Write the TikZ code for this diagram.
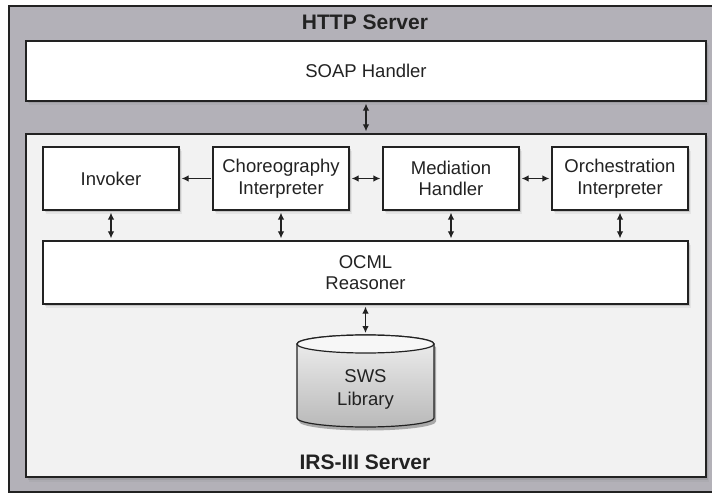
\documentclass[tikz,border=0pt]{standalone}
\usepackage{fontspec}
\setmainfont{Liberation Sans}
\usepackage{tikz}
\usetikzlibrary{arrows.meta,shadows}
\definecolor{IRSOuter}{RGB}{179,177,184}
\definecolor{IRSInner}{RGB}{242,242,242}
\definecolor{IRSLine}{RGB}{34,34,34}
\tikzset{
  shd/.style={drop shadow={shadow xshift=1.5pt,shadow yshift=-2.5pt,opacity=0.3},
              drop shadow={shadow xshift=3pt,shadow yshift=-4.5pt,opacity=0.12}},
  wbox/.style={draw=IRSLine,fill=white,line width=1.2pt,minimum width=136pt,minimum height=63pt,inner sep=0pt,align=center,text=IRSLine,font=\fontsize{18.5}{21.5}\selectfont,shd},
  title/.style={text=IRSLine,font=\bfseries\fontsize{21}{24}\selectfont},
  arr/.style={-{Latex[length=7pt,width=6.5pt]},IRSLine,line width=1.2pt,shorten >=2pt,shorten <=1pt},
  darr/.style={{Latex[length=7pt,width=6.5pt]}-{Latex[length=7pt,width=6.5pt]},IRSLine,line width=1.2pt,shorten >=2pt,shorten <=2pt},
}
\begin{document}
\begin{tikzpicture}[x=1pt,y=-1pt]
  \useasboundingbox (0,0) rectangle (712,494);
  \node[draw=IRSLine,fill=IRSOuter,line width=1.5pt,minimum width=715pt,minimum height=486pt,inner sep=0pt] (http) at (366.5,249) {};
  \node[title] (httplabel) at (365,22) {HTTP Server};
  \node[wbox,minimum width=680pt,minimum height=60pt] (soap) at (366,71) {SOAP Handler};
  \node[draw=IRSLine,fill=IRSInner,line width=1.2pt,minimum width=680pt,minimum height=343pt,inner sep=0pt,shd] (irs) at (366,305.5) {};
  \node[title] (irslabel) at (365,462) {IRS-III Server};
  \node[wbox] (invoker) at (111,178.5) {Invoker};
  \node[wbox] (chor) at (281,178.5) {Choreography\\Interpreter};
  \node[wbox] (med) at (451,178.5) {Mediation\\Handler};
  \node[wbox] (orch) at (620,178.5) {Orchestration\\Interpreter};
  \node[wbox,minimum width=645pt] (ocml) at (365.5,272.5) {OCML\\Reasoner};
  \begin{scope}[shift={(2,3.5)}]
    \fill[black,opacity=0.3] (297,344) -- (297,418) arc[start angle=180,end angle=360,x radius=68.5pt,y radius=9pt]
      -- (434,344) arc[start angle=0,end angle=180,x radius=68.5pt,y radius=9pt] -- cycle;
  \end{scope}
  \draw[IRSLine,line width=1.2pt,top color=gray!12,bottom color=gray!55] (297,344) -- (297,418) arc[start angle=180,end angle=360,x radius=68.5pt,y radius=9pt]
    -- (434,344) arc[start angle=0,end angle=180,x radius=68.5pt,y radius=9pt] -- cycle;
  \draw[IRSLine,line width=1.2pt,fill=gray!6] (365.5,344) ellipse[x radius=68.5pt,y radius=9pt];
  \node[align=center,text=IRSLine,font=\fontsize{18.5}{23}\selectfont] (sws) at (365.5,389) {SWS\\Library};
  \coordinate (swstop) at (365.5,335);
  \draw[darr] (soap.south) -- (irs.north);
  \draw[arr] (chor.west) -- (invoker.east);
  \draw[darr] (chor.east) -- (med.west);
  \draw[darr] (med.east) -- (orch.west);
  \draw[darr] (invoker.south) -- (invoker.south |- ocml.north);
  \draw[darr] (chor.south) -- (chor.south |- ocml.north);
  \draw[darr] (med.south) -- (med.south |- ocml.north);
  \draw[darr] (orch.south) -- (orch.south |- ocml.north);
  \draw[darr] (ocml.south) -- (swstop);
\end{tikzpicture}
\end{document}
